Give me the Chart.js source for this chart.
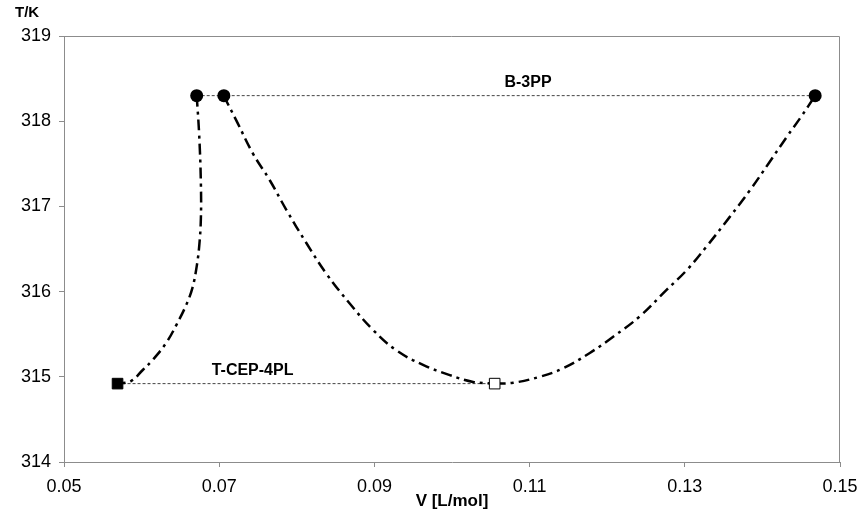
<!DOCTYPE html>
<html>
<head>
<meta charset="utf-8">
<script src="https://cdn.jsdelivr.net/npm/chart.js@4/dist/chart.umd.min.js"></script>
<style>
  html, body { margin: 0; padding: 0; background: #fff; }
  #wrap { width: 859px; height: 513px; }
</style>
</head>
<body>
<div id="wrap"><canvas id="phaseChart" width="859" height="513"></canvas></div>
<script>
// axis ticks
const xTicks = [0.05, 0.07, 0.09, 0.11, 0.13, 0.15];
const yTicks = [314, 315, 316, 317, 318, 319];

// left branch: B-3PP (left) down to T-CEP-4PL (filled square)
const leftV = [0.0671, 0.06742, 0.06764, 0.06764, 0.06743, 0.06709, 0.06657, 0.06578, 0.06449, 0.06318, 0.06145, 0.06015, 0.05863, 0.0569];
const leftT = [318.30, 317.84, 317.27, 316.86, 316.54, 316.29, 316.05, 315.85, 315.61, 315.40, 315.20, 315.08, 314.95, 314.92];

// middle branch: B-3PP (second point) down to open square
const midV = [0.07057, 0.0722, 0.07435, 0.0765, 0.07865, 0.08123, 0.08381, 0.08682, 0.08982, 0.09284, 0.09627, 0.09971, 0.10272, 0.1055];
const midT = [318.30, 318.01, 317.62, 317.31, 316.96, 316.57, 316.21, 315.86, 315.55, 315.31, 315.14, 315.02, 314.94, 314.92];

// right branch: open square up to B-3PP (right)
const rightV = [0.1055, 0.10787, 0.11131, 0.11432, 0.11776, 0.12077, 0.12421, 0.12765, 0.13023, 0.13281, 0.13582, 0.1384, 0.14084, 0.14317, 0.14497, 0.1468];
const rightT = [314.92, 314.93, 315.00, 315.10, 315.28, 315.47, 315.71, 316.02, 316.25, 316.53, 316.88, 317.19, 317.51, 317.82, 318.05, 318.30];

// tie lines
const b3ppV = [0.0671, 0.0706, 0.1468];
const b3ppT = 318.3;
const cepV = [0.0569, 0.1055];
const cepT = 314.92;

// text labels on the tie lines
const tieLabels = ['B-3PP', 'T-CEP-4PL'];
const tieLabelV = [0.1098, 0.0743];
const tieLabelT = [b3ppT, cepT];

const pts = (xs, ys) => xs.map((x, i) => ({ x: x, y: Array.isArray(ys) ? ys[i] : ys }));

const FONT = "'Liberation Sans', Arial, sans-serif";
const curveDash = [11, 5, 3, 5];

const frameAndLabels = {
  id: 'frameAndLabels',
  beforeDatasetsDraw(chart) {
    const { ctx, chartArea: a } = chart;
    ctx.save();
    ctx.strokeStyle = '#8c8c8c';
    ctx.lineWidth = 1;
    ctx.beginPath();
    ctx.moveTo(a.left, a.top + 0.5);
    ctx.lineTo(a.right - 0.5, a.top + 0.5);
    ctx.lineTo(a.right - 0.5, a.bottom);
    ctx.stroke();
    ctx.restore();
  },
  afterDraw(chart) {
    const { ctx, chartArea: a, scales } = chart;
    ctx.save();
    ctx.fillStyle = '#000';
    ctx.font = 'bold 16px ' + FONT;
    ctx.textAlign = 'center';
    ctx.textBaseline = 'bottom';
    tieLabels.forEach((t, i) => {
      ctx.fillText(t, scales.x.getPixelForValue(tieLabelV[i]), scales.y.getPixelForValue(tieLabelT[i]) - 5);
    });
    ctx.font = 'bold 15px ' + FONT;
    ctx.textAlign = 'left';
    ctx.textBaseline = 'middle';
    ctx.fillText('T/K', a.left - 49, a.top - 23);
    ctx.restore();
  }
};

const curve = (data) => ({
  data: data,
  showLine: true,
  borderColor: '#000',
  borderWidth: 2.5,
  borderDash: curveDash,
  tension: 0.4,
  pointRadius: 0,
  order: 5
});

const tie = (data) => ({
  data: data,
  showLine: true,
  borderColor: '#444',
  borderWidth: 1,
  borderDash: [3, 2],
  pointRadius: 0,
  tension: 0,
  order: 6
});

new Chart(document.getElementById('phaseChart'), {
  type: 'scatter',
  data: {
    datasets: [
      {
        data: pts(b3ppV, b3ppT),
        pointStyle: 'circle',
        pointRadius: 6.5,
        backgroundColor: '#000',
        borderColor: '#000',
        borderWidth: 0,
        order: 0
      },
      {
        data: pts(cepV.slice(0, 1), cepT),
        pointStyle: 'rect',
        pointRadius: 7.5,
        backgroundColor: '#000',
        borderColor: '#000',
        borderWidth: 1,
        order: 0
      },
      {
        data: pts(cepV.slice(1), cepT),
        pointStyle: 'rect',
        pointRadius: 7.5,
        backgroundColor: '#fff',
        borderColor: '#000',
        borderWidth: 1,
        order: 0
      },
      curve(pts(leftV, leftT)),
      curve(pts(midV, midT)),
      curve(pts(rightV, rightT)),
      tie(pts([b3ppV[0], b3ppV[2]], b3ppT)),
      tie(pts(cepV, cepT))
    ]
  },
  options: {
    responsive: false,
    animation: false,
    devicePixelRatio: 1,
    layout: { padding: { left: 0, right: 19, top: 36, bottom: 0 } },
    plugins: {
      legend: { display: false },
      tooltip: { enabled: false }
    },
    scales: {
      x: {
        type: 'linear',
        min: 0.05,
        max: 0.15,
        afterBuildTicks: (s) => { s.ticks = xTicks.map(v => ({ value: v })); },
        afterFit: (s) => { s.height = 51; s.paddingLeft = 0; s.paddingRight = 0; },
        border: { display: true, color: '#8c8c8c', width: 1 },
        grid: { drawOnChartArea: false, drawTicks: true, tickLength: 5, color: '#8c8c8c' },
        ticks: {
          color: '#000',
          font: { family: FONT, size: 18 },
          padding: 9,
          maxRotation: 0,
          callback: (v) => v.toFixed(2)
        },
        title: {
          display: true,
          text: 'V [L/mol]',
          color: '#000',
          font: { family: FONT, size: 17, weight: 'bold' },
          padding: { top: 0, bottom: 1 }
        }
      },
      y: {
        type: 'linear',
        min: 314,
        max: 319,
        afterBuildTicks: (s) => { s.ticks = yTicks.map(v => ({ value: v })); },
        afterFit: (s) => { s.width = 64; s.paddingTop = 0; s.paddingBottom = 0; },
        border: { display: true, color: '#8c8c8c', width: 1 },
        grid: { drawOnChartArea: false, drawTicks: true, tickLength: 5, color: '#8c8c8c' },
        ticks: {
          color: '#000',
          font: { family: FONT, size: 18 },
          padding: 8,
          callback: (v) => String(v)
        }
      }
    }
  },
  plugins: [frameAndLabels]
});
</script>
</body>
</html>
